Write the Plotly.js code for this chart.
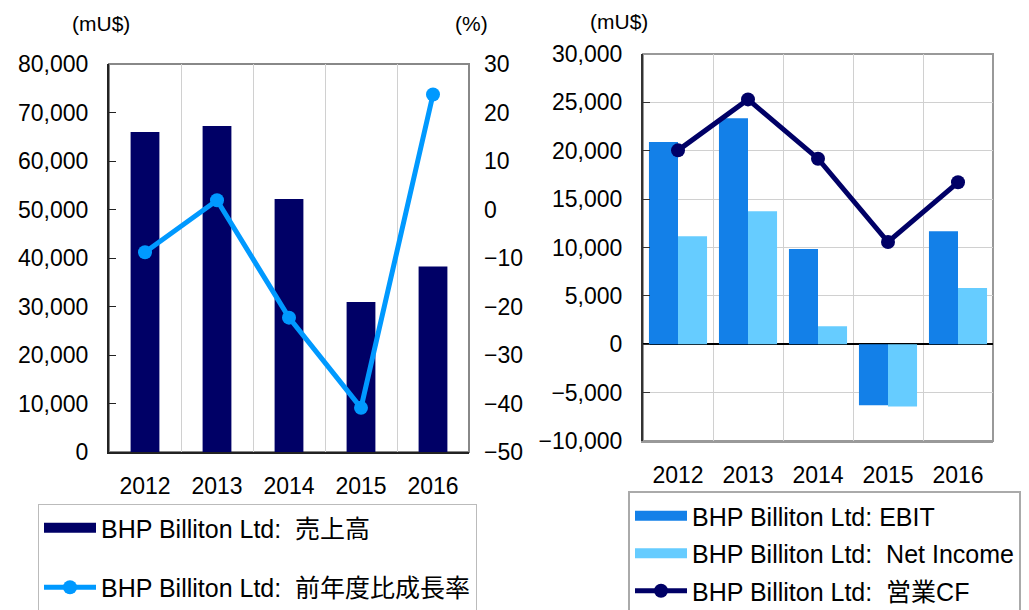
<!DOCTYPE html>
<html>
<head>
<meta charset="utf-8">
<script src="https://cdn.plot.ly/plotly-3.0.1.min.js"></script>
<style>
html, body { margin: 0; padding: 0; background: #fff; }
#chart { width: 1029px; height: 610px; }
</style>
</head>
<body>
<div id="chart"></div>
<script>
const years = ["2012", "2013", "2014", "2015", "2016"];
// left chart: sales (mU$) and year-on-year growth (%)
const sales = [65968, 67206, 52157, 30912, 38259];
const salesGrowth = [-8.8, 1.9, -22.3, -40.9, 23.7];
// right chart (mU$)
const ebit = [20900, 23350, 9850, -6300, 11670];
const netIncome = [11160, 13740, 1860, -6440, 5820];
const operatingCF = [20040, 25310, 19180, 10570, 16740];

const FONT = "Liberation Sans, Noto Sans CJK JP, sans-serif";
const NAVY = "#000066";
const BLUE = "#1380E8";
const SKY = "#66CCFF";
const W = 1029, H = 610;

// pixel -> paper helpers
const px = (x) => x / W;
const py = (y) => 1 - y / H;

// wide rectangle swatch in the legend for a bar series (legend entry only, no data)
function swatch(name, color, legend, group) {
	return {
		type: "scatter", mode: "lines", x: [null], y: [null], xaxis: legend === "legend" ? "x" : "x2",
		yaxis: legend === "legend" ? "y" : "y3",
		line: { color: color, width: 12 }, name: name, legend: legend, legendgroup: group,
		hoverinfo: "skip"
	};
}

const traces = [
	{
		type: "bar", x: years, y: sales, xaxis: "x", yaxis: "y",
		width: 0.4, marker: { color: NAVY }, showlegend: false, legendgroup: "a"
	},
	swatch("BHP Billiton Ltd:  売上高", NAVY, "legend", "a"),
	{
		type: "scatter", mode: "lines+markers", x: years, y: salesGrowth, xaxis: "x", yaxis: "y2",
		line: { color: "#0099FF", width: 5 }, marker: { color: "#0099FF", size: 14 },
		name: "BHP Billiton Ltd:  前年度比成長率", legend: "legend", legendgroup: "b"
	},
	{
		type: "bar", x: years, y: ebit, xaxis: "x2", yaxis: "y3",
		marker: { color: BLUE }, showlegend: false, legendgroup: "c"
	},
	{
		type: "bar", x: years, y: netIncome, xaxis: "x2", yaxis: "y3",
		marker: { color: SKY }, showlegend: false, legendgroup: "d"
	},
	swatch("BHP Billiton Ltd: EBIT", BLUE, "legend2", "c"),
	swatch("BHP Billiton Ltd:  Net Income", SKY, "legend2", "d"),
	{
		type: "scatter", mode: "lines+markers", x: years, y: operatingCF, xaxis: "x2", yaxis: "y3",
		line: { color: NAVY, width: 5 }, marker: { color: NAVY, size: 14 },
		name: "BHP Billiton Ltd:  営業CF", legend: "legend2", legendgroup: "e"
	}
];

const xCommon = {
	type: "category", tickson: "boundaries", showgrid: true, gridcolor: "#d0d0d0",
	ticks: "", ticklabelstandoff: 12, showline: true, linecolor: "#222", linewidth: 2,
	tickfont: { size: 23 }, fixedrange: true
};

const layout = {
	width: W, height: H,
	margin: { l: 0, r: 0, t: 0, b: 0, autoexpand: false },
	paper_bgcolor: "#fff", plot_bgcolor: "#fff",
	font: { family: FONT, color: "#000", size: 23 },
	barmode: "group", bargap: 0.17, bargroupgap: 0,
	showlegend: true,
	xaxis: Object.assign({}, xCommon, { domain: [px(109), px(469)], anchor: "y" }),
	yaxis: {
		domain: [py(452), py(64)], range: [0, 80000], dtick: 10000, tickformat: ",d",
		showgrid: false, zeroline: false, ticks: "inside", ticklen: 7, tickcolor: "#222",
		showline: true, linecolor: "#222", linewidth: 2, ticklabelstandoff: 14, anchor: "x"
	},
	yaxis2: {
		overlaying: "y", side: "right", anchor: "x", range: [-50, 30], dtick: 10,
		showgrid: false, zeroline: false, showline: false, ticklabelstandoff: 14
	},
	xaxis2: Object.assign({}, xCommon, { domain: [px(643), px(993)], anchor: "y3", linecolor: "#999" }),
	yaxis3: {
		domain: [py(441), py(54)], range: [-10000, 30000], dtick: 5000, tickformat: ",d",
		showgrid: true, gridcolor: "#d0d0d0", zeroline: true, zerolinecolor: "#000", zerolinewidth: 2,
		ticks: "inside", ticklen: 7, tickcolor: "#333",
		showline: true, linecolor: "#333", linewidth: 2, ticklabelstandoff: 14, anchor: "x2"
	},
	legend: {
		x: px(38), y: py(504), xanchor: "left", yanchor: "top",
		bordercolor: "#bbb", borderwidth: 1, bgcolor: "#fff",
		itemwidth: 52, tracegroupgap: 24, font: { size: 25 }
	},
	legend2: {
		x: px(628), y: py(491), xanchor: "left", yanchor: "top",
		bordercolor: "#aaa", borderwidth: 2, bgcolor: "#fff",
		itemwidth: 52, tracegroupgap: 2, font: { size: 25 }
	},
	shapes: [
		{ type: "rect", xref: "x domain", yref: "y domain", x0: 0, x1: 1, y0: 0, y1: 1,
			line: { color: "#888", width: 2 }, layer: "below" },
		{ type: "rect", xref: "x2 domain", yref: "y3 domain", x0: 0, x1: 1, y0: 0, y1: 1,
			line: { color: "#999", width: 2 }, layer: "below" }
	],
	annotations: [
		{ text: "(mU$)", xref: "paper", yref: "paper", x: px(70), y: py(24), yanchor: "middle",
			showarrow: false, font: { size: 21 } },
		{ text: "(%)", xref: "paper", yref: "paper", x: px(471), y: py(24), yanchor: "middle",
			showarrow: false, font: { size: 21 } },
		{ text: "(mU$)", xref: "paper", yref: "paper", x: px(619), y: py(22), yanchor: "middle",
			showarrow: false, font: { size: 21 } }
	]
};

Plotly.newPlot("chart", traces, layout, { displayModeBar: false, staticPlot: true });
</script>
</body>
</html>
